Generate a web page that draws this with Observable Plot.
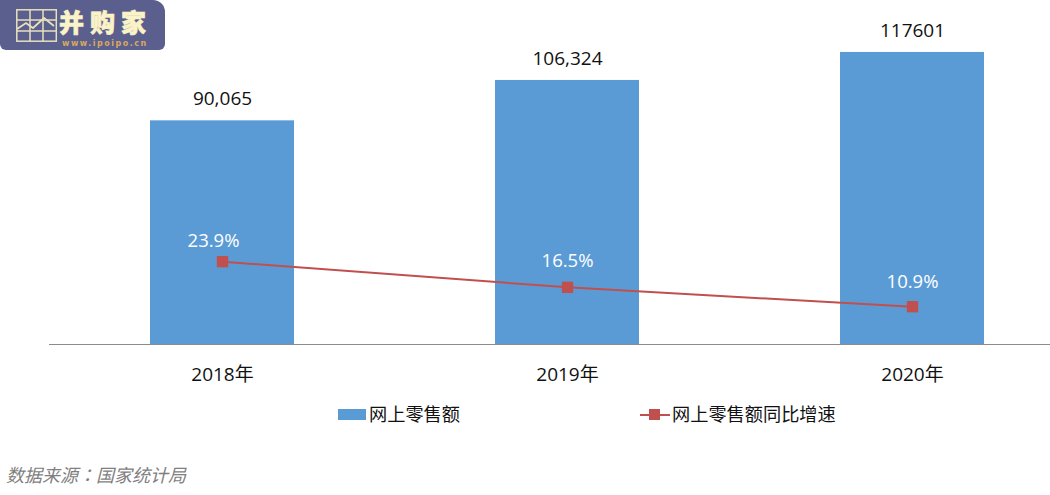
<!DOCTYPE html>
<html lang="zh">
<head>
<meta charset="utf-8">
<script src="https://cdn.jsdelivr.net/npm/d3@7"></script>
<script src="https://cdn.jsdelivr.net/npm/@observablehq/plot@0.6"></script>
<style>
html,body{margin:0;padding:0;background:#fff;}
body{width:1050px;height:495px;overflow:hidden;position:relative;font-family:"Open Sans","Noto Sans CJK SC",sans-serif;color:#111;}
#chart{position:absolute;left:0;top:0;}
#chart svg{display:block;background:transparent;}
.legend{position:absolute;top:402px;font-size:18.2px;line-height:24px;white-space:nowrap;}
.sw{position:absolute;}
#note{position:absolute;left:6px;top:461px;font-size:18px;line-height:26px;font-style:italic;color:#7f7f7f;white-space:nowrap;}
#note span{font-family:"Noto Sans CJK TC",sans-serif;}
#logo{position:absolute;left:0;top:0;width:165px;height:50px;background:#5a5f8e;border-radius:0 12px 6px 6px;overflow:hidden;}
#logo svg{position:absolute;left:16px;top:9px;}
#logo .t{position:absolute;left:59px;top:5.5px;font:900 25px/30px "Noto Sans CJK SC",sans-serif;-webkit-text-stroke:0.6px #fbf3c8;color:#fbf3c8;white-space:nowrap;letter-spacing:6px;}
#logo .u{position:absolute;left:62px;top:38.5px;font:700 8px/10px "DejaVu Sans",sans-serif;color:#d9a860;letter-spacing:1.5px;white-space:nowrap;}
</style>
</head>
<body>
<div id="chart"></div>
<div id="logo">
  <svg width="42" height="33" viewBox="0 0 42 33" fill="none" stroke="#e8e0bc" stroke-width="1.5">
    <rect x="0.8" y="0.8" width="39.5" height="31.4"/>
    <path d="M14 0.8V32M27 0.8V32M0.8 11H40M0.8 22H40"/>
    <path d="M1 20L10 14L17 19L28 9L38 17" stroke-width="1.8"/>
  </svg>
  <div class="t">并购家</div>
  <div class="u">www.ipoipo.cn</div>
</div>
<div class="legend" style="left:338px;width:130px;">
  <span class="sw" style="left:0;top:7px;width:28px;height:11px;background:#5b9bd5;"></span>
  <span style="position:absolute;left:31px;top:0;">网上零售额</span>
</div>
<div class="legend" style="left:640px;width:210px;">
  <span class="sw" style="left:0;top:11.5px;width:30px;height:2px;background:#c0504d;"></span>
  <span class="sw" style="left:9px;top:7px;width:11px;height:11px;background:#c0504d;"></span>
  <span style="position:absolute;left:32px;top:0;">网上零售额同比增速</span>
</div>
<div id="note">数据来源<span lang="zh-TW">：</span>国家统计局</div>
<script>
const years = ["2018年", "2019年", "2020年"];
const sales = [90065, 106324, 117601];
const salesLabels = ["90,065", "106,324", "117601"];
const growth = [23.9, 16.5, 10.9];
const growthLabels = ["23.9%", "16.5%", "10.9%"];

// Growth shares the baseline but reads on its own (hidden) secondary axis.
const salesMax = 120000;
const growthMax = 86;
const toPrimary = v => v / growthMax * salesMax;

const rows = years.map((year, i) => ({
  year,
  sales: sales[i],
  salesLabel: salesLabels[i],
  growth: toPrimary(growth[i]),
  growthLabel: growthLabels[i]
}));

const fontFamily = '"Open Sans","Noto Sans CJK SC",sans-serif';

// The reference nudges each growth label by hand.
const growthLabelNudges = [[-9, -21], [0, -26], [0, -25]];

const chart = Plot.plot({
  width: 1050,
  height: 395,
  marginLeft: 49,
  marginRight: 0,
  marginTop: 0,
  marginBottom: 51,
  style: {fontFamily, background: "transparent", overflow: "hidden"},
  x: {domain: years, range: [49.5, 1084.5], paddingInner: 0.5826, paddingOuter: 0.2913, label: null},
  y: {domain: [0, salesMax], range: [344, 46], axis: null},
  marks: [
    Plot.barY(rows, {x: "year", y: "sales", fill: "#5b9bd5"}),
    Plot.ruleY([0], {stroke: "#8c8c8c", strokeWidth: 1.2}),
    Plot.axisX({tickSize: 0, tickPadding: 23, fontSize: 19, fill: "#111", label: null}),
    Plot.line(rows, {x: "year", y: "growth", stroke: "#c0504d", strokeWidth: 2}),
    Plot.dot(rows, {x: "year", y: "growth", symbol: "square", r: 6.4, fill: "#c0504d", stroke: "none"}),
    Plot.text(rows, {x: "year", y: "sales", text: "salesLabel", dy: -22, fontSize: 19, fill: "#111"}),
    ...rows.map((row, i) => Plot.text([row], {
      x: "year",
      y: "growth",
      text: "growthLabel",
      dx: growthLabelNudges[i][0],
      dy: growthLabelNudges[i][1],
      fontSize: 18.5,
      fill: "#ffffff"
    }))
  ]
});
document.getElementById("chart").appendChild(chart);
</script>
</body>
</html>
